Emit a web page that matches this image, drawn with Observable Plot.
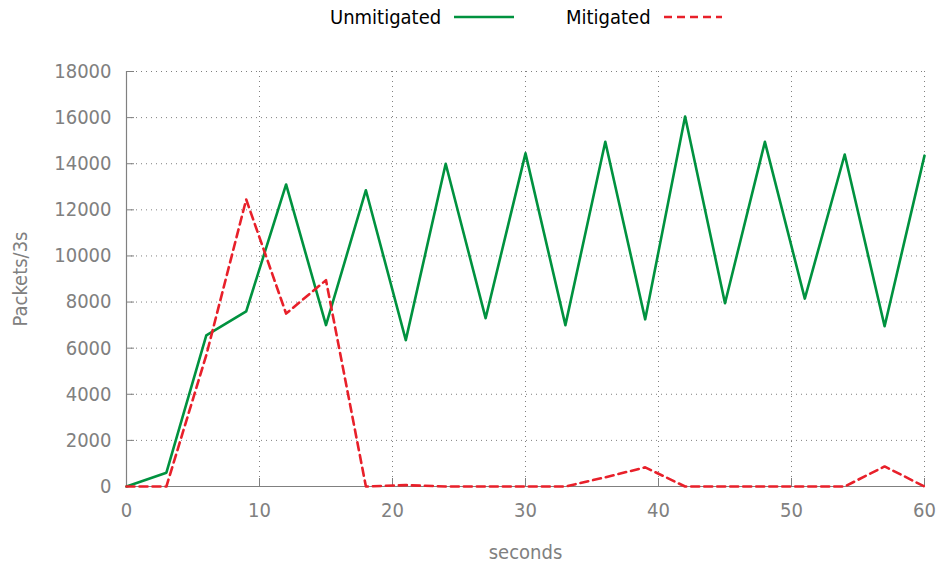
<!DOCTYPE html>
<html>
<head>
<meta charset="utf-8">
<script src="https://cdn.jsdelivr.net/npm/d3@7"></script>
<script src="https://cdn.jsdelivr.net/npm/@observablehq/plot@0.6"></script>
<style>
  body { margin: 0; background: #fff; }
  #chart { width: 940px; font-family: "DejaVu Sans Condensed", "DejaVu Sans", sans-serif; font-stretch: condensed; }
  #legend { position: relative; height: 40px; font-size: 20px; color: #000; }
  #legend .item { position: absolute; top: 5px; display: flex; align-items: center; }
  #legend svg { margin-left: 13px; }
</style>
</head>
<body>
<div id="chart">
  <div id="legend"></div>
</div>
<script>
// Sample times (s), one reading every 3 seconds
const seconds = [0, 3, 6, 9, 12, 15, 18, 21, 24, 27, 30, 33, 36, 39, 42, 45, 48, 51, 54, 57, 60];

// Packets counted per 3-second window
const unmitigated = [0, 600, 6550, 7600, 13100, 7000, 12850, 6350, 14000, 7300, 14450,
                     7000, 14950, 7250, 16050, 7950, 14950, 8150, 14400, 6950, 14350];
const mitigated   = [0, 0, 5700, 12450, 7500, 8950, 0, 60, 0, 0, 0,
                     0, 400, 830, 0, 0, 0, 0, 0, 870, 0];

const seriesNames = ["Unmitigated", "Mitigated"];
const xTicks = [0, 10, 20, 30, 40, 50, 60];
const yTicks = [0, 2000, 4000, 6000, 8000, 10000, 12000, 14000, 16000, 18000];

const green = "#00923f";
const red = "#e8202a";
const gray = "#808080";
const redDash = "8,5";
const plainNumber = d3.format("d");

const rows = seconds.flatMap((t, i) => [
  {t, v: unmitigated[i], s: seriesNames[0]},
  {t, v: mitigated[i], s: seriesNames[1]}
]);

const chart = Plot.plot({
  width: 940,
  height: 526,
  marginTop: 31,
  marginBottom: 80,
  marginLeft: 126,
  marginRight: 16,
  style: {fontFamily: '"DejaVu Sans Condensed", "DejaVu Sans", sans-serif', fontSize: "20px", color: gray},
  x: {domain: [0, 60]},
  y: {domain: [0, 18000]},
  marks: [
    Plot.gridX(xTicks, {stroke: gray, strokeOpacity: 1, strokeDasharray: "1,4"}),
    Plot.gridY(yTicks, {stroke: gray, strokeOpacity: 1, strokeDasharray: "1,4"}),
    // inward tick marks
    Plot.axisY(yTicks, {tickSize: 8, dx: 8, tickFormat: () => "", stroke: gray, label: null}),
    Plot.axisX(xTicks, {tickSize: 8, dy: -8, tickFormat: () => "", stroke: gray, label: null}),
    // tick labels and titles
    Plot.axisY(yTicks, {tickSize: 0, tickPadding: 15, fill: gray, tickFormat: plainNumber,
                        label: "Packets/3s", labelAnchor: "center", labelOffset: 114, labelArrow: "none"}),
    Plot.axisX(xTicks, {tickSize: 0, tickPadding: 16, fill: gray, tickFormat: plainNumber,
                        label: "seconds", labelAnchor: "center", labelOffset: 72, labelArrow: "none"}),
    Plot.ruleX([0], {stroke: gray, strokeWidth: 1.2}),
    Plot.ruleY([0], {stroke: gray, strokeWidth: 1.2}),
    Plot.line(rows.filter(d => d.s === seriesNames[0]), {x: "t", y: "v", stroke: green, strokeWidth: 2.6}),
    Plot.line(rows.filter(d => d.s === seriesNames[1]), {x: "t", y: "v", stroke: red, strokeWidth: 2.6, strokeDasharray: redDash})
  ]
});
document.getElementById("chart").appendChild(chart);

// Legend row above the plot
const legend = document.getElementById("legend");
const legendItems = [
  {name: seriesNames[0], color: green, dash: null, left: 330, len: 60},
  {name: seriesNames[1], color: red, dash: redDash, left: 566, len: 58}
];
for (const it of legendItems) {
  const div = document.createElement("div");
  div.className = "item";
  div.style.left = it.left + "px";
  const span = document.createElement("span");
  span.textContent = it.name;
  div.appendChild(span);
  const svg = d3.create("svg").attr("width", it.len).attr("height", 6);
  svg.append("line").attr("x1", 0).attr("x2", it.len).attr("y1", 3).attr("y2", 3)
    .attr("stroke", it.color).attr("stroke-width", 2.6)
    .attr("stroke-dasharray", it.dash);
  div.appendChild(svg.node());
  legend.appendChild(div);
}
</script>
</body>
</html>
